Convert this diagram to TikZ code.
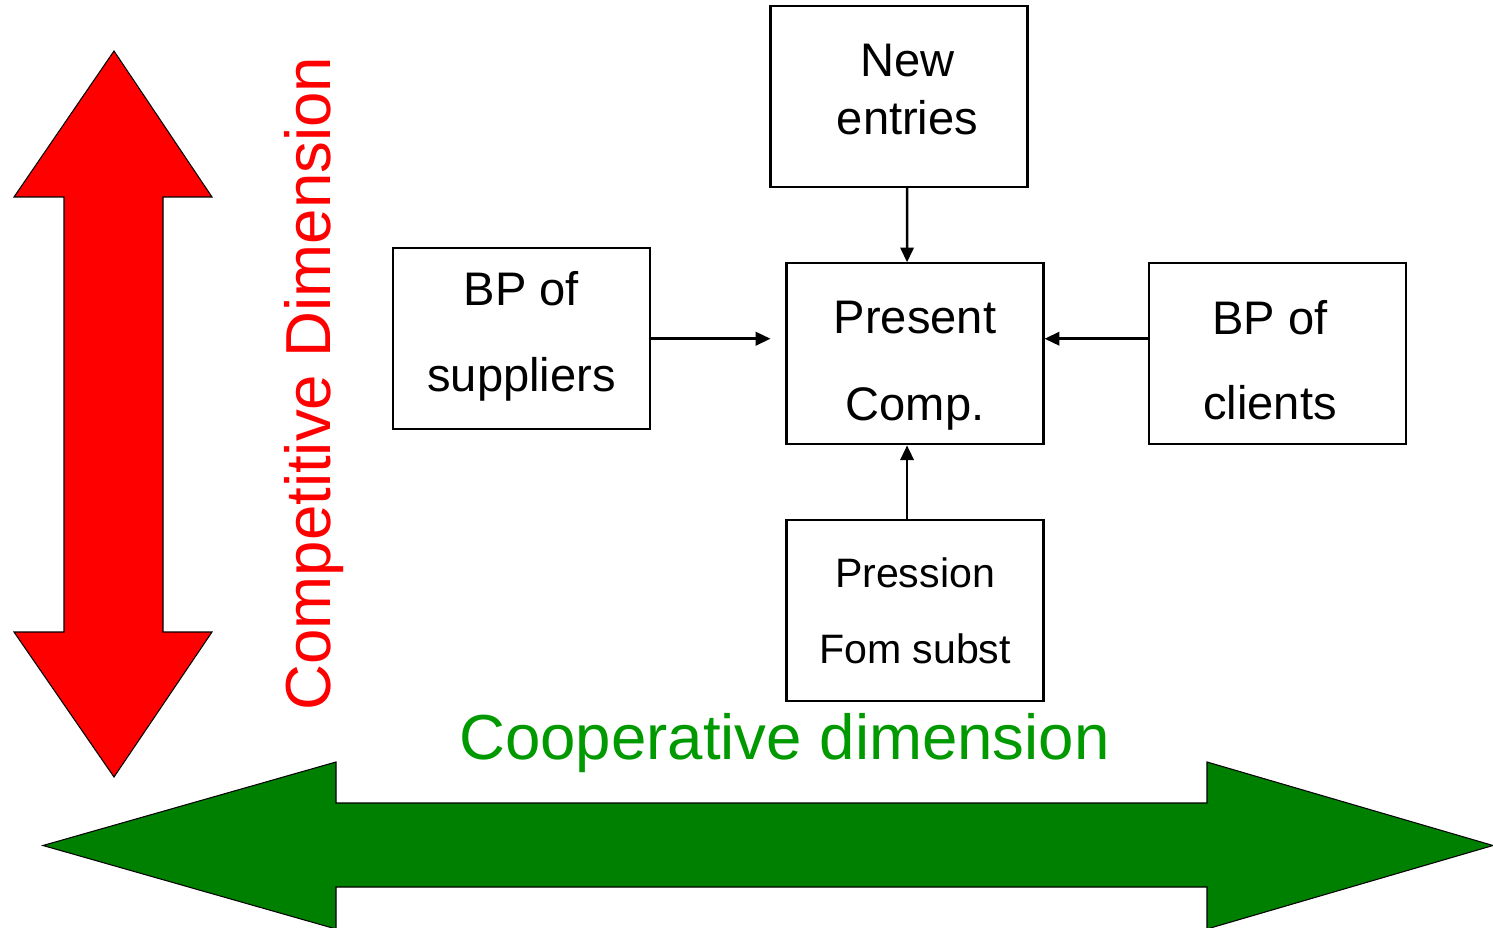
\documentclass[tikz,border=0pt]{standalone}
\usepackage{fontspec}
\setmainfont{Liberation Sans}
\usetikzlibrary{arrows.meta}
\definecolor{compred}{RGB}{255,0,0}
\definecolor{coopgreen}{RGB}{0,128,0}
\definecolor{cooptext}{RGB}{0,153,0}

\begin{document}
\begin{tikzpicture}[scale=0.1,
    forcebox/.style={draw=black,line width=0.6pt,minimum width=2.57cm,minimum height=1.81cm},
    forcelink/.style={draw=black,line width=0.7pt,-{Triangle[length=4.2pt,width=3.8pt]}},
    bigtxt/.style={anchor=base,font=\fontsize{18.1}{21}\selectfont}]
    \tikzstyle{every node}+=[inner sep=0pt]
    \useasboundingbox (0,0) rectangle (149.3,-92.8);
    % the two dimensions
    \filldraw [fill=compred,draw=black,line width=0.3pt] (11.4,-5.1) -- (21.2,-19.7) -- (16.3,-19.7) -- (16.3,-63.2) -- (21.2,-63.2) -- (11.4,-77.7) -- (1.4,-63.2) -- (6.4,-63.2) -- (6.4,-19.7) -- (1.4,-19.7) -- cycle;
    \filldraw [fill=coopgreen,draw=black,line width=0.3pt] (4.3,-84.55) -- (33.6,-76.2) -- (33.6,-80.3) -- (120.7,-80.3) -- (120.7,-76.2) -- (149.3,-84.55) -- (120.7,-92.9) -- (120.7,-88.7) -- (33.6,-88.7) -- (33.6,-92.9) -- cycle;
    \node [bigtxt,rotate=90,text=compred] (comptxt) at (33.0,-38.35) {Competitive Dimension};
    \node [bigtxt,text=cooptext] (cooptxt) at (78.45,-75.9) {Cooperative dimension};
    % forces
    \node [forcebox] (newent) at (89.9,-9.63) {};
    \node [align=center,font=\fontsize{13.4}{16.4}\selectfont] (newtxt) at (90.75,-8.97) {New\\entries};
    \node [forcebox] (suppliers) at (52.17,-33.87) {};
    \node [align=center,font=\fontsize{13.4}{24.4}\selectfont] (supptxt) at (52.15,-33.63) {BP of\\suppliers};
    \node [forcebox] (present) at (91.5,-35.38) {};
    \node [align=center,font=\fontsize{13.4}{24.7}\selectfont] (presenttxt) at (91.5,-36.6) {Present\\Comp.};
    \node [forcebox] (clients) at (127.73,-35.37) {};
    \node [align=center,font=\fontsize{13.4}{24.2}\selectfont] (clitxt) at (127.0,-36.0) {BP of\\clients};
    \node [forcebox] (pression) at (91.5,-61.05) {};
    \node [align=center,font=\fontsize{11.7}{21.8}\selectfont] (prestxt) at (91.5,-61.07) {Pression\\Fom subst};
    \draw [forcelink] ([xshift=8mm]newent.south) -- ([xshift=-8mm]present.north);
    \draw [forcelink] ([xshift=-8mm]pression.north) -- ([xshift=-8mm]present.south);
    \draw [forcelink,shorten >=0.15cm] (suppliers.east) -- (suppliers.east -| present.west);
    \draw [forcelink] (clients.west |- suppliers.east) -- (present.east |- suppliers.east);
\end{tikzpicture}
\end{document}
